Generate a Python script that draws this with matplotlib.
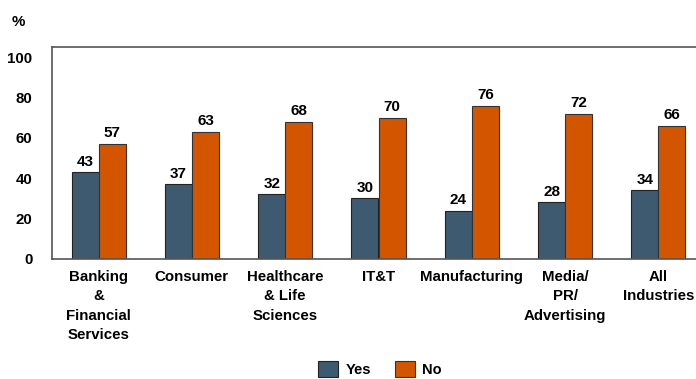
import matplotlib.pyplot as plt
import numpy as np

categories = ['Banking\n&\nFinancial\nServices', 'Consumer', 'Healthcare\n& Life\nSciences',
              'IT&T', 'Manufacturing', 'Media/\nPR/\nAdvertising', 'All\nIndustries']
yes_values = [43, 37, 32, 30, 24, 28, 34]
no_values = [57, 63, 68, 70, 76, 72, 66]

YES_COLOR = '#3e5a70'
NO_COLOR = '#d35500'

plt.rcParams['font.family'] = ['Liberation Sans', 'DejaVu Sans']
plt.rcParams['font.weight'] = 'bold'

fig = plt.figure(figsize=(6.96, 3.79), dpi=100)
ax = fig.add_axes([52 / 696, 120 / 379, 653 / 696, 212 / 379])

x = np.arange(len(categories))
w = 0.29
bars_yes = ax.bar(x - w / 2, yes_values, w, color=YES_COLOR, edgecolor='#222222', linewidth=0.8, label='Yes')
bars_no = ax.bar(x + w / 2, no_values, w, color=NO_COLOR, edgecolor='#333333', linewidth=0.8, label='No')

# value labels above each bar
for bars in (bars_yes, bars_no):
    for b in bars:
        ax.annotate(f'{int(b.get_height())}', (b.get_x() + b.get_width() / 2, b.get_height()),
                    xytext=(0, 2.5), textcoords='offset points', ha='center', va='bottom',
                    fontsize=11, fontweight='bold')

ax.set_xlim(-0.5, 6.5)
ax.set_ylim(0, 105)
ax.set_yticks([0, 20, 40, 60, 80, 100])
ax.set_xticks(x)
ax.set_xticklabels(categories, fontsize=10.8, fontweight='bold', linespacing=1.48, va='top')
ax.tick_params(axis='y', length=0, pad=14, labelsize=10.8)
ax.tick_params(axis='x', length=0, pad=8)
for s in ax.spines.values():
    s.set_color('#555555')
    s.set_linewidth(1.2)

fig.text(18 / 696, 1 - 22 / 379, '%', fontsize=10.8, fontweight='bold', ha='center', va='center')

fig.legend(handles=[bars_yes, bars_no], labels=['Yes', 'No'], loc='lower center',
           bbox_to_anchor=(0.546, -0.03), ncol=2, frameon=False, fontsize=10.5,
           handlelength=1.4, handleheight=1.3, columnspacing=1.6, handletextpad=0.5)

fig.savefig('out.png', dpi=100)
